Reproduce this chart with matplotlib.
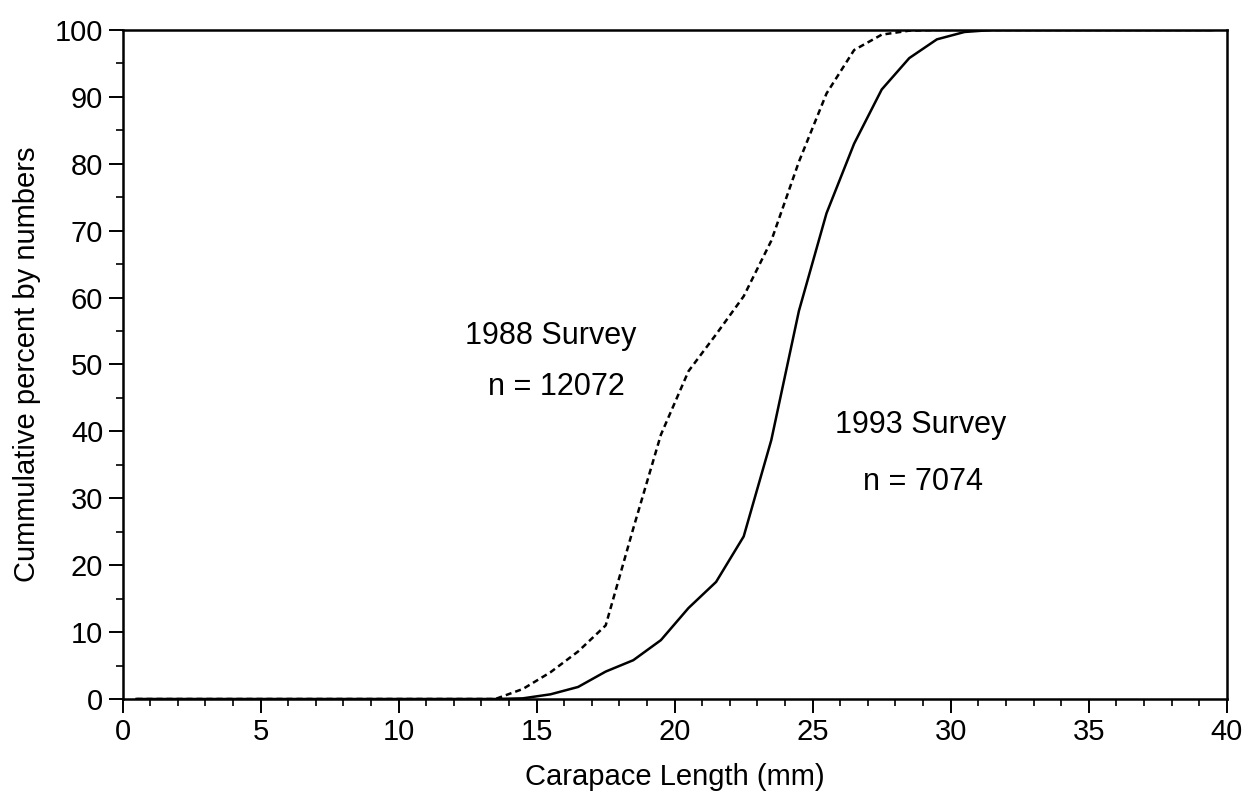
import numpy as np
import matplotlib
matplotlib.use("Agg")
import matplotlib.pyplot as plt
from matplotlib.ticker import MultipleLocator

# Carapace length class midpoints (mm)
length_mm = [0.5, 1.5, 2.5, 3.5, 4.5, 5.5, 6.5, 7.5, 8.5, 9.5,
             10.5, 11.5, 12.5, 13.5, 14.5, 15.5, 16.5, 17.5, 18.5, 19.5,
             20.5, 21.5, 22.5, 23.5, 24.5, 25.5, 26.5, 27.5, 28.5, 29.5,
             30.5, 31.5, 32.5, 33.5, 34.5, 35.5, 36.5, 37.5, 38.5, 39.5]

# 1988 survey cumulative percent (dashed)
cum_1988 = [0, 0, 0, 0, 0, 0, 0, 0, 0, 0,
            0, 0, 0, 0, 1.5, 4.0, 7.1, 11.0, 25.5, 39.5,
            49.0, 54.5, 60.2, 68.5, 80.3, 90.5, 97.0, 99.3, 99.9, 100,
            100, 100, 100, 100, 100, 100, 100, 100, 100, 100]

# 1993 survey cumulative percent (solid)
cum_1993 = [0, 0, 0, 0, 0, 0, 0, 0, 0, 0,
            0, 0, 0, 0, 0.1, 0.7, 1.8, 4.1, 5.8, 8.8,
            13.6, 17.5, 24.3, 38.7, 58.0, 72.6, 83.0, 91.1, 95.8, 98.6,
            99.7, 100, 100, 100, 100, 100, 100, 100, 100, 100]

labels_1988 = ["1988 Survey", "n = 12072"]
labels_1993 = ["1993 Survey", "n = 7074"]

plt.rcParams['font.family'] = ['Liberation Sans', 'DejaVu Sans']

fig = plt.figure(figsize=(12.57, 8.08), dpi=100)
ax = fig.add_axes([0.0976, 0.1349, 0.8783, 0.8280])

ax.plot(length_mm, cum_1993, color='black', lw=1.8)
ln, = ax.plot(length_mm, cum_1988, color='black', lw=1.8)
ln.set_dashes([2.4, 1.6])

ax.set_xlim(0, 40)
ax.set_ylim(0, 100)
ax.xaxis.set_major_locator(MultipleLocator(5))
ax.xaxis.set_minor_locator(MultipleLocator(1))
ax.yaxis.set_major_locator(MultipleLocator(10))
ax.yaxis.set_minor_locator(MultipleLocator(5))

ax.tick_params(which='major', direction='out', length=10, width=1.4,
               labelsize=21, pad=4, top=False, right=False)
ax.tick_params(which='minor', direction='out', length=5, width=1.2,
               top=False, right=False)
for s in ax.spines.values():
    s.set_linewidth(1.8)

ax.set_xlabel("Carapace Length (mm)", fontsize=21, labelpad=12)
ax.set_ylabel("Cummulative percent by numbers", fontsize=21, labelpad=10)

ax.text(15.5, 54.3, labels_1988[0], fontsize=22, ha='center', va='center')
ax.text(15.7, 46.6, labels_1988[1], fontsize=22, ha='center', va='center')
ax.text(28.9, 41.0, labels_1993[0], fontsize=22, ha='center', va='center')
ax.text(29.0, 32.4, labels_1993[1], fontsize=22, ha='center', va='center')

fig.savefig("out.png", dpi=100)
